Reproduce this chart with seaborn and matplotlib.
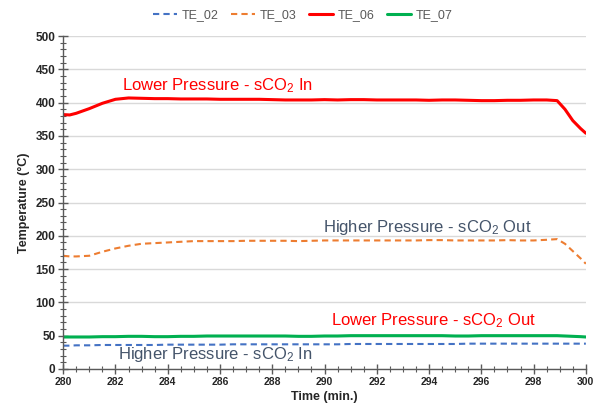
import numpy as np
import pandas as pd
import matplotlib
matplotlib.use("Agg")
import matplotlib.pyplot as plt
from matplotlib.ticker import MultipleLocator
import seaborn as sns

# Time axis (minutes) and thermocouple readings (deg C)
time_min = [280, 280.25, 280.5, 281, 281.5, 282, 282.5, 283, 283.5, 284, 284.5,
            285, 285.5, 286, 286.5, 287, 287.5, 288, 288.5, 289, 289.5, 290,
            290.5, 291, 291.5, 292, 292.5, 293, 293.5, 294, 294.5, 295, 295.5,
            296, 296.5, 297, 297.5, 298, 298.5, 298.9, 299.2, 299.5, 299.8, 300]

te_02 = [35, 35, 35.5, 35.5, 36, 36, 36, 36, 36, 36.5, 36.5,
         36.5, 36.5, 36.5, 37, 37, 37, 37, 37, 37, 37, 37,
         37, 37.5, 37.5, 37.5, 37.5, 37.5, 37.5, 37.5, 37.5, 37.5, 38,
         38, 38, 38, 38, 38, 38, 38, 38, 38, 38, 38]

te_03 = [170, 169, 169, 170, 176, 181, 185, 188, 189, 190, 191,
         192, 192, 192, 192, 192.5, 192.5, 192.5, 192.5, 192, 192.5, 193,
         193, 193, 193, 193, 193, 193, 193, 193.5, 193.5, 193, 193,
         193, 193, 193.5, 193, 193, 194, 195, 188, 177, 166, 158]

te_06 = [382, 381.5, 384, 391, 399, 405, 407, 406.5, 406, 406, 405.5,
         405.5, 405.5, 405, 405, 405, 405, 404.5, 404, 404, 404, 404.5,
         404, 404.5, 404.5, 404, 404, 404, 404, 403.5, 404, 404, 403.5,
         403, 403, 403.5, 403.5, 404, 404, 403, 390, 373, 361, 354]

te_07 = [48, 48, 48, 48, 48.5, 48.5, 49, 49, 48.5, 48.5, 49,
         49, 49.5, 49.5, 49.5, 49.5, 49.5, 49.5, 49.5, 49, 49, 49.5,
         49.5, 50, 50, 50, 50, 50, 50, 50, 50, 49.5, 49.5,
         50, 50, 50, 50, 50, 50, 50, 49.5, 49, 48.5, 48]

series_names = ["TE_02", "TE_03", "TE_06", "TE_07"]
series_values = [te_02, te_03, te_06, te_07]
series_colors = ["#4472C4", "#ED7D31", "#FF0000", "#00B050"]
series_dashed = [True, True, False, False]
series_widths = [1.5, 1.5, 2.2, 2.2]

annot_text = ["Lower Pressure - sCO$_2$ In", "Higher Pressure - sCO$_2$ Out",
              "Lower Pressure - sCO$_2$ Out", "Higher Pressure - sCO$_2$ In"]
annot_x = [282.25, 289.95, 290.25, 282.1]
annot_y = [426, 213, 73, 21]
annot_color = ["#FF0000", "#44546A", "#FF0000", "#44546A"]

sns.set_theme(style="white")
plt.rcParams["font.family"] = ["Liberation Sans", "DejaVu Sans"]
plt.rcParams["mathtext.fontset"] = "custom"
plt.rcParams["mathtext.rm"] = "Liberation Sans"
plt.rcParams["mathtext.it"] = "Liberation Sans"

df = pd.DataFrame({"Time": time_min})
for name, vals in zip(series_names, series_values):
    df[name] = vals

fig = plt.figure(figsize=(5.96, 4.05), dpi=100)
ax = fig.add_axes([0.106, 0.089, 0.877, 0.822])

for name, color, dashed, lw in zip(series_names, series_colors, series_dashed, series_widths):
    sns.lineplot(data=df, x="Time", y=name, ax=ax, color=color, linewidth=lw,
                 linestyle=(0, (3, 2)) if dashed else "-", label=name)

for txt, x, y, c in zip(annot_text, annot_x, annot_y, annot_color):
    ax.text(x, y, txt, color=c, fontsize=12, ha="left", va="center")

ax.set_xlim(280, 300)
ax.set_ylim(0, 500)
ax.xaxis.set_major_locator(MultipleLocator(2))
ax.xaxis.set_minor_locator(MultipleLocator(0.5))
ax.yaxis.set_major_locator(MultipleLocator(50))
ax.yaxis.set_minor_locator(MultipleLocator(10))
ax.grid(axis="y", which="major", color="#D9D9D9", linewidth=1.0)
ax.grid(axis="x", visible=False)
ax.set_axisbelow(True)

for side in ["top", "right"]:
    ax.spines[side].set_visible(False)
for side in ["left", "bottom"]:
    ax.spines[side].set_color("#595959")
    ax.spines[side].set_linewidth(1.0)

ax.tick_params(axis="both", which="major", direction="inout", length=7, width=1,
               color="#595959", pad=2)
ax.tick_params(axis="both", which="minor", direction="inout", length=5, width=0.8,
               color="#595959")
ax.tick_params(axis="x", which="both", bottom=True)
ax.tick_params(axis="y", which="both", left=True)
ax.set_xticks(ax.get_xticks())
ax.set_xticklabels([f"{int(t)}" for t in ax.get_xticks()], fontweight="bold", fontsize=7.5)
ax.set_yticks(ax.get_yticks())
ax.set_yticklabels([f"{int(t)}" for t in ax.get_yticks()], fontweight="bold", fontsize=8.5)
ax.set_xlim(280, 300)
ax.set_ylim(0, 500)

ax.set_xlabel("Time (min.)", fontsize=9, fontweight="bold", labelpad=3)
ax.set_ylabel("Temperature (°C)", fontsize=9, fontweight="bold", labelpad=4)

leg = ax.legend(loc="center", bbox_to_anchor=(0.508, 0.963), bbox_transform=fig.transFigure,
                ncol=4, frameon=False, fontsize=9, handlelength=1.9, columnspacing=1.0,
                handletextpad=0.4)
for t in leg.get_texts():
    t.set_color("#595959")

fig.savefig("out.png", dpi=100)
